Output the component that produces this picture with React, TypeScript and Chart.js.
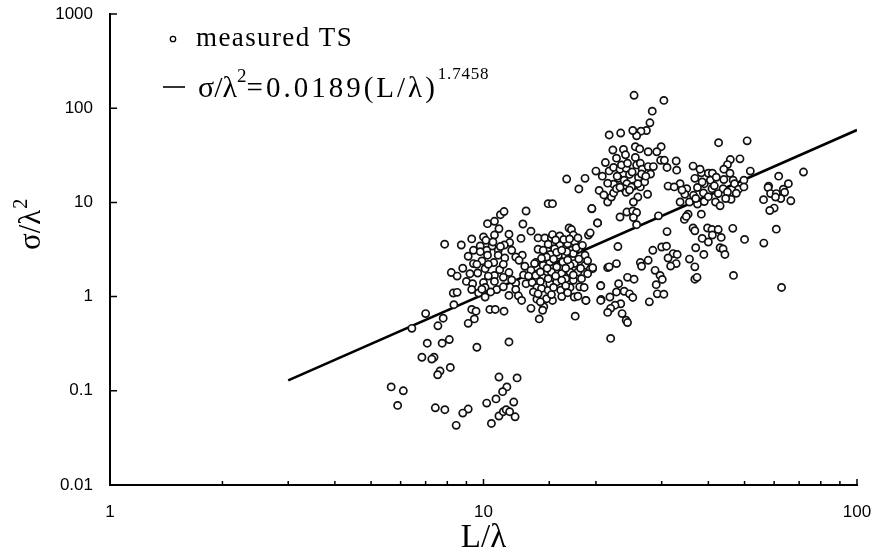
import React, { useEffect, useRef } from "react";
import { Chart, registerables } from "chart.js";

Chart.register(...registerables);

const xTickLabels = [1, 10, 100];
const yTickLabels = [0.01, 0.1, 1, 10, 100, 1000];
const fitL = [3, 100];
const fitSigma = [0.129, 58.6];

const lowerLeftGroup = [
  [6.43,0.46],[7.0,0.66],[7.8,0.59],[7.55,0.49],[8.33,0.82],[7.07,0.32],[7.75,0.32],[8.1,0.35],[6.84,0.227],[7.37,0.227],[7.27,0.217],[8.15,0.177],[7.65,0.162],[7.54,0.148],[9.6,0.29],[11.7,0.33],
  [11.0,0.14],[12.3,0.137],[11.55,0.11],[11.25,0.098],[10.8,0.082],[10.2,0.074],[12.05,0.076],[9.1,0.064],[8.8,0.058],[8.45,0.043],[10.5,0.045],[11.0,0.054],[11.3,0.06],[11.5,0.063],[11.75,0.06],[12.15,0.053],
  [7.43,0.066],[7.88,0.063],[5.66,0.11],[6.1,0.1],[5.89,0.07],
];

const leftCluster = [
  [7.87,3.6],[8.72,3.53],[9.3,4.1],[10,4.3],[10.25,5.95],[10.7,6.3],[11.1,7.4],[11.35,8.0],[13,8.1],[12.75,5.9],[13.4,4.95],[11,5.25],[10.7,4.5],[11.7,4.6],[12.6,4.15],[10.15,3.96],[11.75,3.75],[11.37,3.53],[10.55,3.45],[9.8,3.45],
  [9.4,3.1],[10.2,3.1],[10.95,3.1],[9.1,2.68],[10.95,2.75],[10.25,2.75],[11.4,2.57],[12.7,2.75],[12.2,2.63],[12.45,2.43],[9.9,2.39],[10.65,2.3],[9.4,2.24],[8.8,2.0],[10.1,1.98],[11.05,1.93],[8.2,1.8],[9.65,1.78],[8.5,1.65],[11.7,1.8],
  [10.7,1.68],[10.7,1.45],[10,1.41],[9.0,1.45],[9.35,1.37],[9.3,1.19],[10.1,1.25],[10.85,1.19],[11.3,1.27],[12.2,1.39],[12.2,1.19],[9.7,1.09],[10.45,1.12],[10.1,0.99],[8.3,1.09],[8.5,1.11],[11.7,1.03],[12.4,1.02],[12.65,0.91],
  [9.3,0.73],[9.55,0.7],[9.45,0.58],[9.1,0.52],[10.4,0.73],[10.75,0.73],[11.35,0.7],
  [9.8,3.0],[10.6,3.8],[11.1,3.4],[11.9,3.1],[9.6,2.2],[10.3,2.2],[11.3,2.2],[9.2,1.75],[10.3,1.65],[11.3,1.6],[9.9,1.2],[11.9,1.5],[12.8,1.7],[12.9,2.1],
];

const middleCluster = [
  [13,1.37],[13.4,1.9],[13.8,2.3],[14,4.2],[14,3.18],[14.6,4.2],[15.2,4.2],[15.3,4.55],[16,4.4],[16.95,5.35],[17.2,5.15],[17.4,4.5],[19.1,4.5],[19.3,4.75],[20.2,6.05],[19.5,8.55],[14.9,9.7],[15.3,9.7],
  [14.45,3.1],[15.25,3.5],[16,3.5],[16.8,3.65],[17.55,3.8],[18,3.23],[17.2,3.1],[16.5,2.75],[15.85,2.75],[15.1,2.8],[18.7,2.75],[17.4,2.86],[13.7,2.24],[14.45,2.15],[15.7,2.06],[15.05,2.33],[16.3,2.33],[17.5,2.24],[18.7,2.15],
  [19.6,1.98],[19.3,1.95],[17.9,1.83],[17.05,1.83],[16.2,1.76],[15.2,1.83],[14.45,1.59],[13.8,1.68],[13.5,1.41],[13.9,1.25],[14.3,1.22],[14.9,1.17],[15.7,1.43],[16.6,1.55],[18.3,1.55],[18.1,1.27],[17.05,1.25],[16.1,1.17],[16.2,1.0],
  [17.5,0.99],[17.9,1.01],[18.8,0.91],[20.6,1.31],[20.65,0.93],[21.5,2.03],[15.3,0.91],[13.9,0.94],[14.75,0.95],[13.4,0.75],[14.5,0.78],[14.4,0.715],[14.1,0.58],[17.6,0.62],
  [13.6,1.12],[14,1.07],[15.05,1.37],[16.2,1.49],[17.4,1.49],[17.05,2.15],[15.5,3.23],[16.7,3.0],[14.75,2.63],[14.2,1.83],
  [15.6,4.0],[16.4,4.05],[17,4.1],[17.9,4.2],[14.9,3.6],[15.7,2.95],[16.2,3.1],[17.7,3.3],[18.4,3.5],[14.3,2.55],[15.4,2.5],[16.8,2.45],[18,2.5],[19,2.4],[14.8,2.0],[16.6,2.0],[18.2,2.0],[15.6,1.65],[17.4,1.7],[19,1.75],
  [14.2,1.45],[14.9,1.55],[15.4,1.25],[16.6,1.3],[13.2,1.65],[15.2,1.05],[16.8,1.1],[14.2,0.88],[18.6,1.25],
];

const upperCluster = [
  [25.3,137],[30.4,121],[28.3,93],[27.9,70],[27.3,58],[26.4,57],[25.7,51],[25.1,58],[23.3,54.5],[21.7,52],[25.5,39],[26.2,37],[29.9,39],[29.1,34.5],[27.6,34.5],[22.2,36],[23.7,36.5],[22.7,29.5],[24,32],[21.2,26.5],
  [20,21.5],[18.7,18],[16.7,17.7],[20.8,19],[21.7,21.6],[22.3,23.5],[23.2,22.5],[24.1,23],[25.7,25],[26.3,26],[26.6,22.5],[28,20],[29.8,28],[30.5,28],[31,23.5],[32.8,27.5],[32.9,22],
  [18,13.9],[20.4,13.4],[21.5,10.1],[22,11.4],[22.3,12.6],[22.3,15.6],[23,18],[23.8,17.2],[24.2,15.8],[23.8,14],[24.1,12.8],[25.2,14.9],[26,18.4],[25.9,11.4],[25.2,10.1],[26.3,14.6],[27,16.5],[27.5,12.2],
  [24.9,14.6],[22.7,14],[25.9,15.8],[24.6,19.8],[23.4,25],[27.6,24],[29.4,7.2],[23.2,7],[24.2,7.9],[25.1,8.1],[25.7,7.8],[25.2,6.9],[25.7,5.8],[19.5,8.6],[20.2,6.05],
  [21.5,16],[23.2,14.5],[24.6,13.5],[26.5,20],[27.2,19],[24.3,26],[25,21],[22.8,19],[25.5,30],[28.5,24],[21,12],
];

const rightBandGroup = [
  [36.4,24.3],[42.6,43],[50.8,45],[48.6,29],[45.8,28.5],[45,25.2],[44,22.5],[45.7,20.4],[38.3,20.6],[40,20.4],[41,20.4],[36.8,18],[40.5,17.2],[46.6,17.2],[49.8,17.2],[51.8,21.5],[33.6,15.8],[31.2,14.9],[32.4,14.6],[35,14],[37.4,14.4],
  [39,15.8],[40.9,14],[43.8,14],[47,15.8],[48.2,13.8],[49.8,14.6],[34.6,12.2],[36.5,11.9],[38.8,12.6],[42.5,12.4],[45,12.9],[33.6,10.1],[35.6,10.1],[37.4,9.6],[39,10.2],[41.8,10.1],[43,9.2],[46,10.8],[35.3,7.5],[34.5,6.6],[34.9,7.1],[38.3,7.5],
  [34,13.5],[37,11],[38.5,16.5],[40,11.5],[41.5,15],[44,17.5],[42,18.5],[38,22.5],[44.5,11],[47.5,12.5],
];

const farRightGroup = [
  [71.9,21],[61.7,19],[65.5,15.8],[58,14.9],[57.8,14.4],[63.5,13.8],[58.7,12.4],[60.8,12.4],[64,12.8],[62.5,11],[60.5,11.4],[66.5,10.4],[56.2,10.7],[60,8.7],[58.4,8.2],[60.8,5.2],[56.3,3.7],[50,4.05],[46.5,5.3],[62.8,1.25],[46.7,1.68],
];

const lowerRightGroup = [
  [31,4.9],[36.4,5.35],[36.8,5],[39.8,5.35],[40.9,5.15],[42.5,5.15],[43.3,4.25],[38.5,4.15],[40,3.8],[37,3.3],[38.9,2.8],[43,3.3],[43.8,3.2],[44.3,2.8],[35.6,2.5],[36.8,2.07],[36.8,1.53],[37.3,1.6],[22.9,3.4],[28.4,3.1],[30,3.36],[30.9,3.43],
  [32.2,2.86],[31.2,2.57],[32.8,2.24],[31.7,2.11],[27.6,2.43],[26.3,2.3],[26.5,2.1],[22.7,2.24],[21.7,2.07],[19.6,2.03],[28.8,1.9],[29.7,1.68],[30.1,1.52],[29,1.34],[24.3,1.6],[25.3,1.53],[23,1.37],[20.6,1.3],[22.7,1.12],[23.8,1.14],
  [24.6,1.07],[25.1,0.98],[21.8,0.99],[20.6,0.91],[18.8,0.91],[23.3,0.84],[22.5,0.81],[21.9,0.75],[21.5,0.68],[23.5,0.66],[24.1,0.56],[24.3,0.53],[21.9,0.36],[27.8,0.88],[29.2,1.07],[30.4,1.06],
  [33,2.8],[41,4.5],
];

const measuredPoints = [
  ...lowerLeftGroup, ...leftCluster, ...middleCluster, ...upperCluster,
  ...rightBandGroup, ...farRightGroup, ...lowerRightGroup,
];

const SERIF = '"Liberation Serif", serif';
const SANS = '"Liberation Sans", sans-serif';
const labelled = (list: number[], v: number) => list.includes(Number(v.toPrecision(3)));

const annotations = {
  id: "annotations",
  afterDraw(chart: any) {
    const { ctx } = chart;
    const xS = chart.scales.x;
    const yS = chart.scales.y;
    ctx.save();
    ctx.strokeStyle = "#000";
    ctx.lineWidth = 1.5;
    ctx.beginPath();
    for (const t of xS.ticks) {
      const px = xS.getPixelForValue(t.value);
      const len = labelled(xTickLabels, t.value) ? 6 : 4;
      ctx.moveTo(px, yS.bottom);
      ctx.lineTo(px, yS.bottom - len);
    }
    for (const t of yS.ticks) {
      if (!labelled(yTickLabels, t.value)) continue;
      const py = yS.getPixelForValue(t.value);
      ctx.moveTo(xS.left, py);
      ctx.lineTo(xS.left + 7, py);
    }
    ctx.stroke();

    // y-axis title
    ctx.save();
    ctx.translate(40, 222);
    ctx.rotate(-Math.PI / 2);
    ctx.fillStyle = "#000";
    ctx.textAlign = "left";
    ctx.textBaseline = "alphabetic";
    ctx.font = `31px ${SERIF}`;
    const yt = "σ/λ";
    const ytw = ctx.measureText(yt).width;
    ctx.fillText(yt, -28, 0);
    ctx.font = `20px ${SERIF}`;
    ctx.fillText("2", -28 + ytw + 1, -13);
    ctx.restore();

    // legend
    ctx.fillStyle = "#000";
    ctx.textAlign = "left";
    ctx.textBaseline = "alphabetic";
    ctx.beginPath();
    ctx.arc(173, 39, 2.7, 0, Math.PI * 2);
    ctx.lineWidth = 1.3;
    ctx.stroke();
    ctx.font = `27px ${SERIF}`;
    (ctx as any).letterSpacing = "1.4px";
    ctx.fillText("measured TS", 196, 46);

    ctx.lineWidth = 1.6;
    ctx.beginPath();
    ctx.moveTo(163, 87);
    ctx.lineTo(185, 87);
    ctx.stroke();

    let cx = 198;
    (ctx as any).letterSpacing = "0px";
    ctx.font = `30px ${SERIF}`;
    ctx.fillText("σ/λ", cx, 97);
    cx += ctx.measureText("σ/λ").width;
    ctx.font = `19px ${SERIF}`;
    ctx.fillText("2", cx, 82);
    cx += ctx.measureText("2").width;
    (ctx as any).letterSpacing = "3px";
    ctx.font = `29px ${SERIF}`;
    ctx.fillText("=0.0189(L/λ)", cx, 97);
    cx += ctx.measureText("=0.0189(L/λ)").width;
    (ctx as any).letterSpacing = "0.8px";
    ctx.font = `17px ${SERIF}`;
    ctx.fillText("1.7458", cx, 79);
    ctx.restore();
  },
};

export default function App() {
  const ref = useRef<HTMLCanvasElement>(null);
  useEffect(() => {
    document.body.style.margin = "0";
    const chart = new Chart(ref.current as HTMLCanvasElement, {
      type: "scatter",
      data: {
        datasets: [
          {
            label: "measured TS",
            data: measuredPoints.map(([x, y]) => ({ x, y })),
            pointRadius: 3.6,
            pointBorderWidth: 1.7,
            pointBorderColor: "#111",
            pointBackgroundColor: "#fff",
            showLine: false,
          },
          {
            label: "σ/λ²=0.0189(L/λ)^1.7458",
            data: fitL.map((x, i) => ({ x, y: fitSigma[i] })),
            showLine: true,
            borderColor: "#000",
            borderWidth: 2.6,
            pointRadius: 0,
          },
        ],
      },
      options: {
        animation: false,
        responsive: false,
        layout: { padding: { left: 0, right: 18, top: 14, bottom: 0 } },
        plugins: { legend: { display: false }, tooltip: { enabled: false } },
        scales: {
          x: {
            type: "logarithmic",
            min: 1,
            max: 100,
            afterFit(scale: any) {
              scale.height = 73;
              scale.paddingLeft = 0;
              scale.paddingRight = 0;
            },
            grid: { display: false, drawTicks: false },
            border: { color: "#000", width: 2 },
            title: {
              display: true,
              text: "L/λ",
              color: "#000",
              font: { family: SERIF, size: 33 },
              padding: { top: 0, bottom: 0 },
            },
            ticks: {
              autoSkip: false,
              maxRotation: 0,
              minRotation: 0,
              padding: 17,
              color: "#000",
              font: { family: SANS, size: 17 },
              callback: (v: any) => (labelled(xTickLabels, Number(v)) ? String(Number(v)) : ""),
            },
          },
          y: {
            type: "logarithmic",
            min: 0.01,
            max: 1000,
            afterFit(scale: any) {
              scale.width = 110;
              scale.paddingTop = 0;
              scale.paddingBottom = 0;
            },
            grid: { display: false, drawTicks: false },
            border: { color: "#000", width: 2 },
            ticks: {
              autoSkip: false,
              padding: 17,
              color: "#000",
              font: { family: SANS, size: 17 },
              callback: (v: any) => (labelled(yTickLabels, Number(v)) ? String(Number(Number(v).toPrecision(3))) : ""),
            },
          },
        },
      },
      plugins: [annotations],
    } as any);
    return () => chart.destroy();
  }, []);
  return <canvas ref={ref} width={875} height={558} style={{ display: "block" }} />;
}
